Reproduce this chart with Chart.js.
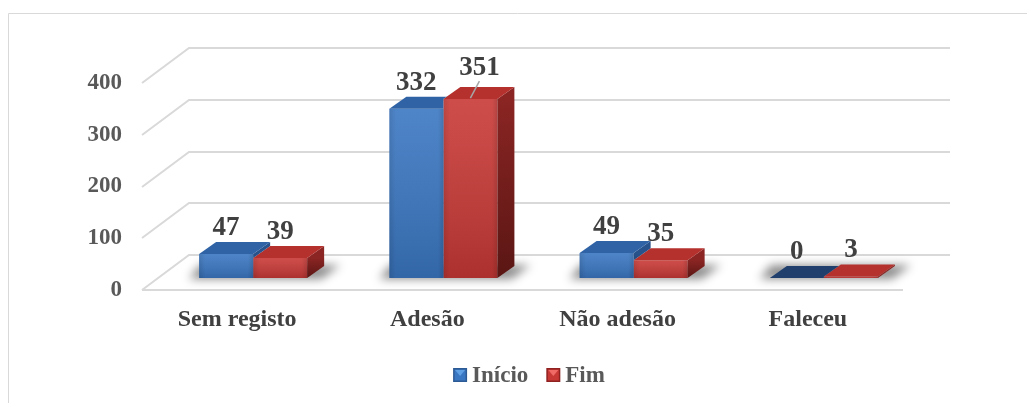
<!DOCTYPE html>
<html><head><meta charset="utf-8">
<script src="https://cdn.jsdelivr.net/npm/chart.js@4.4.0/dist/chart.umd.min.js"></script>
<style>html,body{margin:0;padding:0;background:#fff;overflow:hidden}#wrap{width:1027px;height:403px;position:relative}</style>
</head><body><div id="wrap"><canvas id="c" width="1027" height="403"></canvas></div>
<script>
const categories = ['Sem registo', 'Adesão', 'Não adesão', 'Faleceu'];
const inicio = [47, 332, 49, 0];
const fim = [39, 351, 35, 3];
const yTicks = [0, 100, 200, 300, 400];
const seriesNames = ['Início', 'Fim'];

const FONT = "'Liberation Serif', 'Times New Roman', serif";
const WALL_DX = 47, WALL_DY = -35;   // depth of the 3D floor/walls
const BAR_OX = 16, BAR_OY = -12;     // bar plane offset from front plane
const DEPTH_DX = 17, DEPTH_DY = -12; // bar depth
const BAR_PLANE_MAX = 406;           // bar plane lies deeper, so it is drawn slightly smaller
const styles = [
  {front:'#3a77c2', top:'#2f63a6', topZero:'#203f6d', side1:'#27528b', side2:'#1b3b66', leg1:'#2c5a95', leg2:'#5f9fe3'},
  {front:'#c83936', top:'#b4312e', topZero:'#a12b28', side1:'#8a2523', side2:'#5a1614', leg1:'#8f2220', leg2:'#f06a66'}
];
const leader = {dataset:1, index:1, dx:9, dy:-5};

function poly(ctx, pts){ctx.beginPath();ctx.moveTo(pts[0][0],pts[0][1]);for(let i=1;i<pts.length;i++)ctx.lineTo(pts[i][0],pts[i][1]);ctx.closePath();}
function box(b){ return {l: b.x - b.width/2, r: b.x + b.width/2, t: Math.min(b.y, b.base), bs: b.base}; }

const threeD = {
  id:'threeD',
  beforeDatasetsDraw(chart){
    const ctx = chart.ctx, ys = chart.scales.y, a = chart.chartArea;
    ctx.save();
    ctx.strokeStyle = '#d9d9d9'; ctx.lineWidth = 1;
    ctx.beginPath(); ctx.moveTo(8.5, 403); ctx.lineTo(8.5, 13.5); ctx.lineTo(1027, 13.5); ctx.stroke();
    ctx.lineWidth = 2; ctx.strokeStyle = '#d9d9d9';
    yTicks.forEach(v => {
      const py = Math.round(ys.getPixelForValue(v));
      ctx.beginPath(); ctx.moveTo(a.left, py); ctx.lineTo(a.left + WALL_DX, py + WALL_DY); ctx.lineTo(a.right + WALL_DX, py + WALL_DY); ctx.stroke();
    });
    const p0 = Math.round(ys.getPixelForValue(0));
    ctx.beginPath(); ctx.moveTo(a.left, p0); ctx.lineTo(a.right, p0); ctx.stroke();
    // floor shadows
    const m0 = chart.getDatasetMeta(0), m1 = chart.getDatasetMeta(1);
    ctx.filter = 'blur(5px)';
    ctx.fillStyle = 'rgba(0,0,0,0.45)';
    m0.data.forEach((b0, i) => {
      const b1 = m1.data[i];
      const l = b0.x - b0.width/2 + BAR_OX, r = b1.x + b1.width/2 + BAR_OX, yb = b0.base + BAR_OY;
      poly(ctx, [[l-10, yb+1], [l+DEPTH_DX-16, yb+DEPTH_DY-1], [r+DEPTH_DX+16, yb+DEPTH_DY-1], [r+14, yb+1]]);
      ctx.fill();
    });
    ctx.filter = 'none';
    ctx.restore();
    ctx.save();
    ctx.translate(BAR_OX, BAR_OY);
  },
  afterDatasetDraw(chart, args){
    const ctx = chart.ctx, meta = args.meta, st = styles[args.index];
    const data = chart.data.datasets[args.index].data;
    const other = args.index === 0 ? chart.getDatasetMeta(1) : null;
    meta.data.forEach((b, i) => {
      const {l, r, t, bs} = box(b);
      ctx.save();
      if (other) {
        const o = box(other.data[i]);
        ctx.beginPath();
        ctx.rect(-100, -100, 1300, 700);
        ctx.moveTo(o.l, o.bs); ctx.lineTo(o.l, o.t); ctx.lineTo(o.l + DEPTH_DX, o.t + DEPTH_DY);
        ctx.lineTo(o.r + DEPTH_DX, o.t + DEPTH_DY); ctx.lineTo(o.r + DEPTH_DX, o.bs + DEPTH_DY); ctx.lineTo(o.r, o.bs); ctx.closePath();
        ctx.clip('evenodd');
      }
      if (bs - t > 1) {
        const g = ctx.createLinearGradient(0, t, 0, bs);
        g.addColorStop(0, 'rgba(255,255,255,0.10)');
        g.addColorStop(1, 'rgba(0,0,0,0.14)');
        ctx.fillStyle = g; ctx.fillRect(l, t, r - l, bs - t);
        const g2 = ctx.createLinearGradient(l, 0, r, 0);
        g2.addColorStop(0, 'rgba(0,0,0,0.10)');
        g2.addColorStop(0.12, 'rgba(0,0,0,0)');
        g2.addColorStop(0.9, 'rgba(0,0,0,0)');
        g2.addColorStop(1, 'rgba(0,0,0,0.12)');
        ctx.fillStyle = g2; ctx.fillRect(l, t, r - l, bs - t);
      }
      const sg = ctx.createLinearGradient(0, t, 0, bs);
      sg.addColorStop(0, st.side1); sg.addColorStop(1, st.side2);
      ctx.fillStyle = sg;
      poly(ctx, [[r, t], [r + DEPTH_DX, t + DEPTH_DY], [r + DEPTH_DX, bs + DEPTH_DY], [r, bs]]);
      ctx.fill();
      ctx.fillStyle = data[i] === 0 ? st.topZero : st.top;
      poly(ctx, [[l, t], [l + DEPTH_DX, t + DEPTH_DY], [r + DEPTH_DX, t + DEPTH_DY], [r, t]]);
      ctx.fill();
      ctx.restore();
    });
  },
  afterDatasetsDraw(chart){
    const ctx = chart.ctx;
    ctx.restore();
    ctx.save();
    ctx.font = 'bold 27px ' + FONT;
    ctx.fillStyle = '#404040';
    ctx.textAlign = 'center'; ctx.textBaseline = 'middle';
    chart.data.datasets.forEach((ds, di) => {
      chart.getDatasetMeta(di).data.forEach((b, i) => {
        let x = b.x + BAR_OX, y = Math.min(b.y, b.base) + BAR_OY - 26;
        if (leader.dataset === di && leader.index === i) {
          const bx = x, by = Math.min(b.y, b.base) + BAR_OY - 1;
          x += leader.dx; y += leader.dy;
          ctx.save(); ctx.strokeStyle = '#a6a6a6'; ctx.lineWidth = 1.5;
          ctx.beginPath(); ctx.moveTo(x, y + 13); ctx.lineTo(bx, by); ctx.stroke(); ctx.restore();
        }
        ctx.fillText(String(ds.data[i]), x, y);
      });
    });
    ctx.restore();
  },
  afterDraw(chart){
    const ctx = chart.ctx;
    ctx.save();
    ctx.font = 'bold 23px ' + FONT;
    ctx.textBaseline = 'middle'; ctx.textAlign = 'left';
    const gap = 5, between = 18, bx = 14;
    const widths = seriesNames.map(n => ctx.measureText(n).width);
    let total = 0; widths.forEach((w, i) => { total += bx + gap + w + (i ? between : 0); });
    let x = 529 - total/2; const cy = 375;
    seriesNames.forEach((n, i) => {
      const st = styles[i];
      ctx.fillStyle = st.leg1; ctx.fillRect(x, cy - 7, bx, bx);
      ctx.fillStyle = st.front; ctx.fillRect(x + 1.5, cy - 5.5, bx - 3, bx - 3);
      ctx.fillStyle = st.leg2; poly(ctx, [[x + 2, cy - 5], [x + bx - 2, cy - 5], [x + bx/2, cy + 1]]); ctx.fill();
      ctx.fillStyle = '#595959';
      ctx.fillText(n, x + bx + gap, cy + 1);
      x += bx + gap + widths[i] + between;
    });
    ctx.restore();
  }
};

new Chart(document.getElementById('c'), {
  type: 'bar',
  data: {
    labels: categories,
    datasets: [
      {label: seriesNames[0], data: inicio, yAxisID: 'yBars', backgroundColor: styles[0].front, categoryPercentage: 0.568, barPercentage: 1, clip: false},
      {label: seriesNames[1], data: fim, yAxisID: 'yBars', backgroundColor: styles[1].front, categoryPercentage: 0.568, barPercentage: 1, clip: false}
    ]
  },
  options: {
    responsive: false, animation: false, devicePixelRatio: 1,
    layout: {padding: {top: 83, right: 124, left: 0, bottom: 0}},
    plugins: {legend: {display: false}, tooltip: {enabled: false}},
    scales: {
      x: {
        grid: {display: false, drawTicks: false}, border: {display: false},
        ticks: {font: {family: FONT, size: 24, weight: 'bold'}, color: '#404040', padding: 15, maxRotation: 0, autoSkip: false},
        afterFit(s){ s.height = 113; }
      },
      y: {
        min: 0, max: 400,
        afterBuildTicks(s){ s.ticks = yTicks.map(v => ({value: v})); },
        grid: {display: false, drawTicks: false}, border: {display: false},
        ticks: {font: {family: FONT, size: 23, weight: 'bold'}, color: '#595959', padding: 20},
        afterFit(s){ s.width = 142; }
      },
      yBars: {
        display: false, min: 0, max: BAR_PLANE_MAX
      }
    }
  },
  plugins: [threeD]
});
</script></body></html>
